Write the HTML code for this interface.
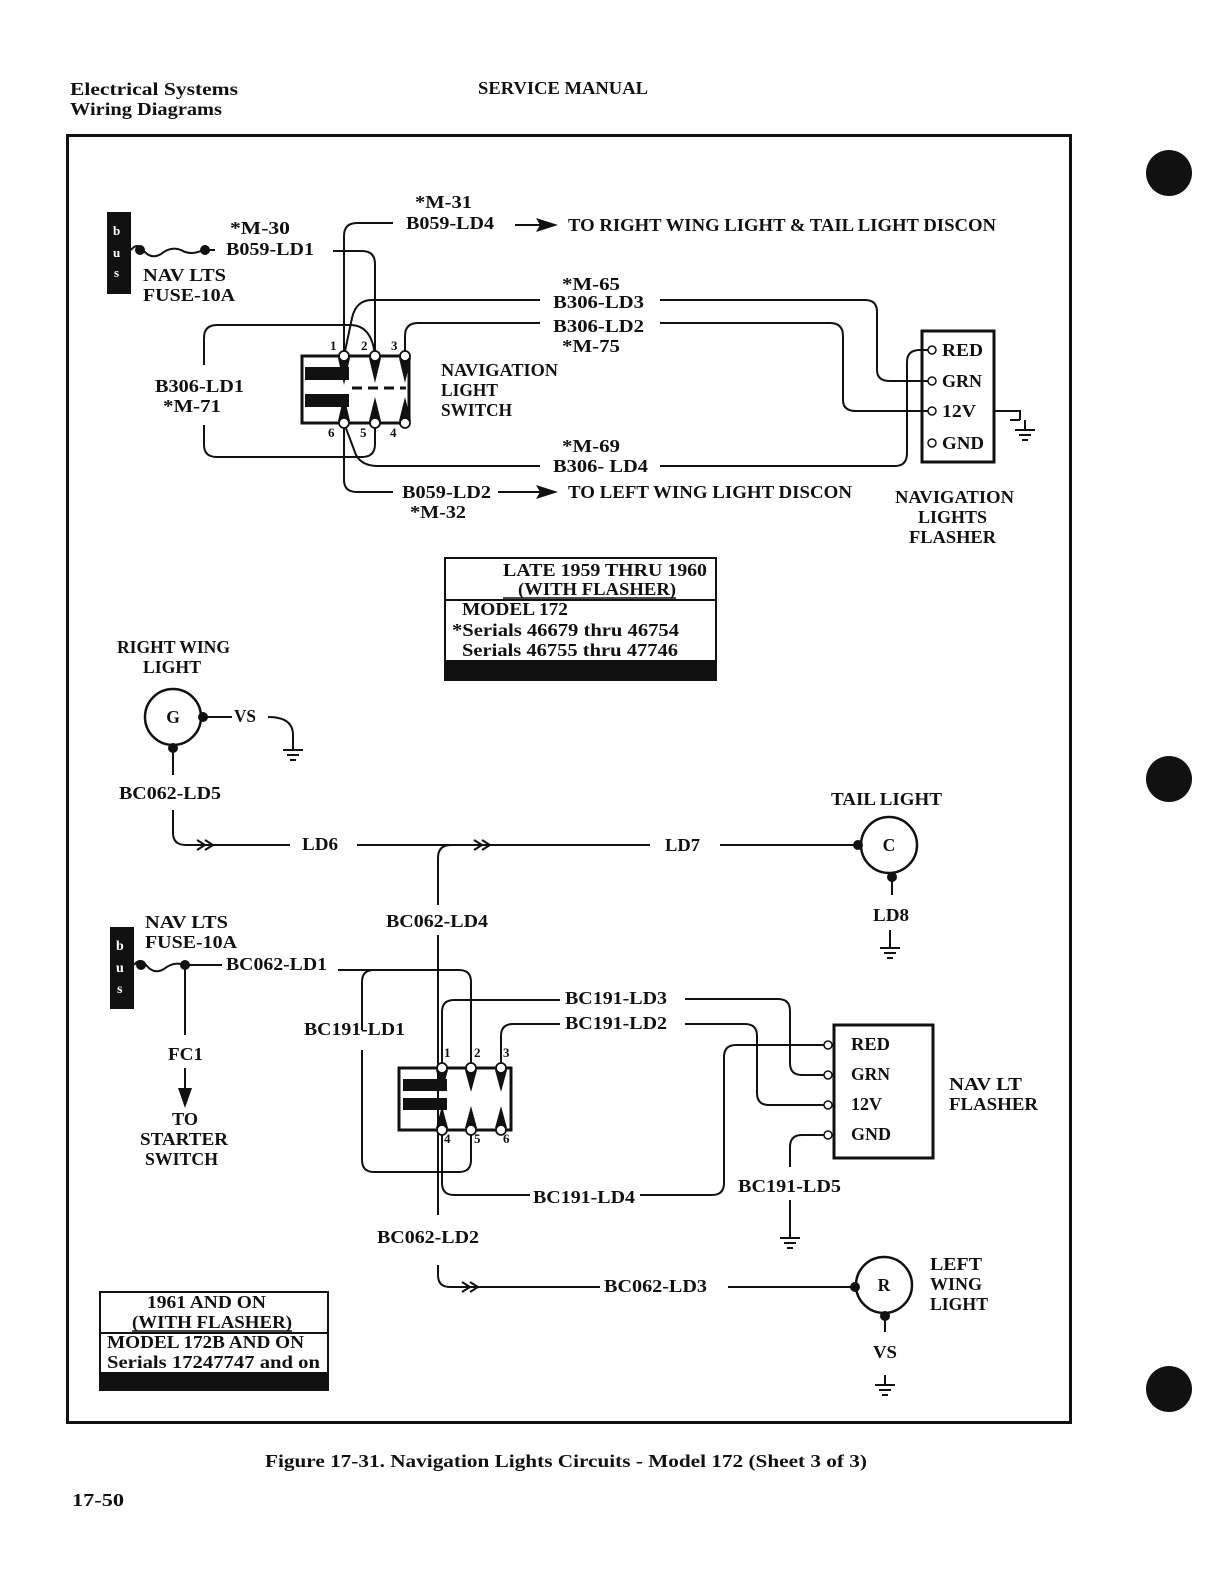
<!DOCTYPE html>
<html><head><meta charset="utf-8"><style>
html,body{margin:0;padding:0;background:#fff;overflow:hidden;width:1222px;height:1578px;}
svg{display:block;position:absolute;left:0;top:0;}
text{font-family:"Liberation Serif",serif;font-weight:bold;font-size:17.5px;fill:#111;}
</style></head><body>
<svg width="1222" height="1578" viewBox="0 0 1222 1578" xmlns="http://www.w3.org/2000/svg">
<defs>
<g id="gnd"><line x1="0" y1="0" x2="0" y2="10" stroke="#111" stroke-width="2"/><line x1="-10" y1="10" x2="10" y2="10" stroke="#111" stroke-width="2"/><line x1="-6" y1="15" x2="6" y2="15" stroke="#111" stroke-width="2"/><line x1="-3" y1="20" x2="3" y2="20" stroke="#111" stroke-width="2"/></g>
<g id="chev"><polyline points="-8,-5 0,0 -8,5" fill="none" stroke="#111" stroke-width="2"/><polyline points="0,-5 8,0 0,5" fill="none" stroke="#111" stroke-width="2"/></g>
</defs>
<rect width="1222" height="1578" fill="#fff"/>
<text x="70" y="95" textLength="168" lengthAdjust="spacingAndGlyphs">Electrical Systems</text>
<text x="70" y="115" textLength="152" lengthAdjust="spacingAndGlyphs">Wiring Diagrams</text>
<text x="478" y="94" textLength="170" lengthAdjust="spacingAndGlyphs">SERVICE MANUAL</text>
<circle cx="1169" cy="173" r="23" fill="#111"/>
<circle cx="1169" cy="779" r="23" fill="#111"/>
<circle cx="1169" cy="1389" r="23" fill="#111"/>
<rect x="67.5" y="135.5" width="1003" height="1287" fill="none" stroke="#111" stroke-width="3"/>

<g fill="none" stroke="#111" stroke-width="2">
<path d="M131,250 q6,-8 12,0 q8,10 18,4 q10,-8 20,-4 q10,6 22,0 H215"/>
<path d="M333,251 H362 Q375,251 375,264 V356"/>
<path d="M344,356 V236 Q344,223 357,223 H393"/>
<path d="M344,356 L352,318 Q356,300 372,300 H540"/>
<path d="M660,300 H865 Q877,300 877,312 V370 Q877,381 890,381 H930"/>
<path d="M405,356 V336 Q405,323 418,323 H540"/>
<path d="M660,323 H830 Q843,323 843,336 V400 Q843,411 856,411 H930"/>
<path d="M375,356 Q372,325 350,325 H217 Q204,325 204,338 V365"/>
<path d="M204,425 V445 Q204,457 217,457 H362 Q375,457 375,444 V423"/>
<path d="M344,423 L356,455 Q362,466 378,466 H540"/>
<path d="M660,466 H895 Q907,466 907,453 V362 Q907,350 920,350 H930"/>
<path d="M344,423 V480 Q344,492 357,492 H393"/>
<path d="M515,225 H548"/><path d="M498,492 H548"/>
<path d="M994,411 H1020 V420"/>
<rect x="922" y="331" width="72" height="131" stroke-width="3"/>
<rect x="445" y="558" width="271" height="122" stroke-width="2"/>
<line x1="445" y1="600" x2="716" y2="600"/>
<line x1="503" y1="598" x2="676" y2="598" stroke-width="1.5"/>
<circle cx="173" cy="717" r="28" stroke-width="2.5"/>
<path d="M203,717 H232"/>
<path d="M268,717 Q293,717 293,735 V740"/>
<path d="M173,748 V775"/>
<path d="M173,810 V833 Q173,845 186,845 H290"/>
<path d="M357,845 H650"/>
<path d="M720,845 H858"/>
<path d="M438,905 V858 Q438,845 451,845"/>
<circle cx="889" cy="845" r="28" stroke-width="2.5"/>
<path d="M892,875 V895"/>
<path d="M134,965 q6,-8 12,0 q8,10 18,4 q10,-8 20,-4 H222"/>
<path d="M185,965 V1035"/>
<path d="M185,1068 V1090"/>
<path d="M338,970 H459 Q471,970 471,982 V1068"/>
<path d="M362,1030 V982 Q362,970 374,970"/>
<path d="M362,1050 V1160 Q362,1172 374,1172 H459 Q471,1172 471,1160 V1130"/>
<path d="M438,935 V1215"/>
<path d="M442,1068 V1012 Q442,1000 454,1000 H560"/>
<path d="M685,999 H778 Q790,999 790,1011 V1063 Q790,1075 802,1075 H828"/>
<path d="M501,1068 V1036 Q501,1024 513,1024 H560"/>
<path d="M685,1024 H745 Q757,1024 757,1036 V1093 Q757,1105 769,1105 H828"/>
<path d="M442,1130 V1183 Q442,1195 454,1195 H530"/>
<path d="M640,1195 H712 Q724,1195 724,1183 V1057 Q724,1045 736,1045 H828"/>
<path d="M828,1135 H802 Q790,1135 790,1147 V1167"/>
<path d="M790,1200 V1228"/>
<rect x="834" y="1025" width="99" height="133" stroke-width="3"/>
<path d="M438,1265 V1275 Q438,1287 450,1287 H600"/>
<path d="M728,1287 H855"/>
<circle cx="884" cy="1285" r="28" stroke-width="2.5"/>
<path d="M885,1315 V1332"/>
<rect x="100" y="1292" width="228" height="98" stroke-width="2"/>
<line x1="100" y1="1333" x2="328" y2="1333"/>
<line x1="132" y1="1331" x2="292" y2="1331" stroke-width="1.5"/>
<rect x="302" y="356" width="107" height="67" stroke-width="3"/>
<rect x="399" y="1068" width="112" height="62" stroke-width="3"/>
<line x1="352" y1="388" x2="406" y2="388" stroke-width="3" stroke-dasharray="10,6"/>
</g>

<g fill="#fff" stroke="#111" stroke-width="1.5">
<circle cx="932" cy="350" r="4"/><circle cx="932" cy="381" r="4"/><circle cx="932" cy="411" r="4"/><circle cx="932" cy="443" r="4"/>
<circle cx="828" cy="1045" r="4"/><circle cx="828" cy="1075" r="4"/><circle cx="828" cy="1105" r="4"/><circle cx="828" cy="1135" r="4"/>
</g>
<g fill="#111">
<polygon points="338,358 350,358 344,385"/><polygon points="369,358 381,358 375,383"/><polygon points="399,358 411,358 405,383"/>
<polygon points="338,421 350,421 344,395"/><polygon points="369,421 381,421 375,397"/><polygon points="399,421 411,421 405,397"/>
<rect x="305" y="367" width="44" height="13"/><rect x="305" y="394" width="44" height="13"/>
<polygon points="436,1070 448,1070 442,1092"/><polygon points="465,1070 477,1070 471,1092"/><polygon points="495,1070 507,1070 501,1092"/>
<polygon points="436,1128 448,1128 442,1106"/><polygon points="465,1128 477,1128 471,1106"/><polygon points="495,1128 507,1128 501,1106"/>
<rect x="403" y="1079" width="44" height="12"/><rect x="403" y="1098" width="44" height="12"/>
</g>
<g fill="#fff" stroke="#111" stroke-width="1.8">
<circle cx="344" cy="356" r="5"/><circle cx="375" cy="356" r="5"/><circle cx="405" cy="356" r="5"/>
<circle cx="344" cy="423" r="5"/><circle cx="375" cy="423" r="5"/><circle cx="405" cy="423" r="5"/>
<circle cx="442" cy="1068" r="5"/><circle cx="471" cy="1068" r="5"/><circle cx="501" cy="1068" r="5"/>
<circle cx="442" cy="1130" r="5"/><circle cx="471" cy="1130" r="5"/><circle cx="501" cy="1130" r="5"/>
</g>
<g fill="#111">
<circle cx="140" cy="250" r="5"/><circle cx="205" cy="250" r="5"/>
<circle cx="141" cy="965" r="5"/><circle cx="185" cy="965" r="5"/>
<circle cx="203" cy="717" r="5"/><circle cx="173" cy="748" r="5"/>
<circle cx="858" cy="845" r="5"/><circle cx="892" cy="877" r="5"/>
<circle cx="855" cy="1287" r="5"/><circle cx="885" cy="1316" r="5"/>
<polygon points="558,225 536,218 540,225 536,232"/><polygon points="558,492 536,485 540,492 536,499"/>
<polygon points="185,1108 178,1088 192,1088"/>
<rect x="445" y="660" width="271" height="20"/>
<rect x="100" y="1372" width="228" height="18"/>
<rect x="107" y="212" width="24" height="82"/><rect x="110" y="927" width="24" height="82"/>
</g>
<text x="113" y="235" style="fill:#fff;font-size:13px">b</text><text x="113" y="257" style="fill:#fff;font-size:13px">u</text><text x="114" y="277" style="fill:#fff;font-size:13px">s</text>
<text x="116" y="950" style="fill:#fff;font-size:14px">b</text><text x="116" y="972" style="fill:#fff;font-size:14px">u</text><text x="117" y="993" style="fill:#fff;font-size:14px">s</text>
<use href="#gnd" x="1025" y="420"/><use href="#gnd" x="293" y="740"/><use href="#gnd" x="890" y="938"/>
<use href="#gnd" x="790" y="1228"/><use href="#gnd" x="885" y="1375"/>
<line x1="1010" y1="420" x2="1020" y2="420" stroke="#111" stroke-width="2"/>
<use href="#chev" x="205" y="845"/><use href="#chev" x="482" y="845"/><use href="#chev" x="470" y="1287"/>
<line x1="890" y1="930" x2="890" y2="938" stroke="#111" stroke-width="2"/>

<g>
<text x="230" y="234" textLength="60" lengthAdjust="spacingAndGlyphs">*M-30</text><text x="226" y="255" textLength="88" lengthAdjust="spacingAndGlyphs">B059-LD1</text>
<text x="143" y="281" textLength="83" lengthAdjust="spacingAndGlyphs">NAV LTS</text><text x="143" y="301" textLength="92" lengthAdjust="spacingAndGlyphs">FUSE-10A</text>
<text x="415" y="208" textLength="57" lengthAdjust="spacingAndGlyphs">*M-31</text><text x="406" y="229" textLength="88" lengthAdjust="spacingAndGlyphs">B059-LD4</text>
<text x="568" y="231" textLength="428" lengthAdjust="spacingAndGlyphs">TO RIGHT WING LIGHT &amp; TAIL LIGHT DISCON</text>
<text x="562" y="290" textLength="58" lengthAdjust="spacingAndGlyphs">*M-65</text><text x="553" y="308" textLength="91" lengthAdjust="spacingAndGlyphs">B306-LD3</text>
<text x="553" y="332" textLength="91" lengthAdjust="spacingAndGlyphs">B306-LD2</text><text x="562" y="352" textLength="58" lengthAdjust="spacingAndGlyphs">*M-75</text>
<text x="155" y="392" textLength="89" lengthAdjust="spacingAndGlyphs">B306-LD1</text><text x="163" y="412" textLength="58" lengthAdjust="spacingAndGlyphs">*M-71</text>
<text x="441" y="376" textLength="117" lengthAdjust="spacingAndGlyphs">NAVIGATION</text><text x="441" y="396" textLength="57" lengthAdjust="spacingAndGlyphs">LIGHT</text><text x="441" y="416" textLength="71" lengthAdjust="spacingAndGlyphs">SWITCH</text>
<text x="562" y="452" textLength="58" lengthAdjust="spacingAndGlyphs">*M-69</text><text x="553" y="472" textLength="95" lengthAdjust="spacingAndGlyphs">B306- LD4</text>
<text x="402" y="498" textLength="89" lengthAdjust="spacingAndGlyphs">B059-LD2</text><text x="410" y="518" textLength="56" lengthAdjust="spacingAndGlyphs">*M-32</text>
<text x="568" y="498" textLength="284" lengthAdjust="spacingAndGlyphs">TO LEFT WING LIGHT DISCON</text>
<text x="330" y="350" style="font-size:13px">1</text><text x="361" y="350" style="font-size:13px">2</text><text x="391" y="350" style="font-size:13px">3</text>
<text x="328" y="437" style="font-size:13px">6</text><text x="360" y="437" style="font-size:13px">5</text><text x="390" y="437" style="font-size:13px">4</text>
<text x="444" y="1057" style="font-size:13px">1</text><text x="474" y="1057" style="font-size:13px">2</text><text x="503" y="1057" style="font-size:13px">3</text>
<text x="444" y="1143" style="font-size:13px">4</text><text x="474" y="1143" style="font-size:13px">5</text><text x="503" y="1143" style="font-size:13px">6</text>
<text x="942" y="356" textLength="41" lengthAdjust="spacingAndGlyphs">RED</text><text x="942" y="387" textLength="40" lengthAdjust="spacingAndGlyphs">GRN</text><text x="942" y="417" textLength="34" lengthAdjust="spacingAndGlyphs">12V</text><text x="942" y="449" textLength="42" lengthAdjust="spacingAndGlyphs">GND</text>
<text x="895" y="503" textLength="119" lengthAdjust="spacingAndGlyphs">NAVIGATION</text><text x="918" y="523" textLength="69" lengthAdjust="spacingAndGlyphs">LIGHTS</text><text x="909" y="543" textLength="87" lengthAdjust="spacingAndGlyphs">FLASHER</text>
<text x="503" y="576" textLength="204" lengthAdjust="spacingAndGlyphs">LATE 1959 THRU 1960</text><text x="518" y="595" textLength="158" lengthAdjust="spacingAndGlyphs">(WITH FLASHER)</text>
<text x="462" y="615" textLength="106" lengthAdjust="spacingAndGlyphs">MODEL 172</text><text x="452" y="636" textLength="227" lengthAdjust="spacingAndGlyphs">*Serials 46679 thru 46754</text><text x="462" y="656" textLength="216" lengthAdjust="spacingAndGlyphs">Serials 46755 thru 47746</text>
<text x="117" y="653" textLength="113" lengthAdjust="spacingAndGlyphs">RIGHT WING</text><text x="143" y="673" textLength="58" lengthAdjust="spacingAndGlyphs">LIGHT</text>
<text x="173" y="723" text-anchor="middle">G</text><text x="234" y="722" textLength="22" lengthAdjust="spacingAndGlyphs">VS</text>
<text x="119" y="799" textLength="102" lengthAdjust="spacingAndGlyphs">BC062-LD5</text>
<text x="302" y="850" textLength="36" lengthAdjust="spacingAndGlyphs">LD6</text><text x="665" y="851" textLength="35" lengthAdjust="spacingAndGlyphs">LD7</text>
<text x="831" y="805" textLength="111" lengthAdjust="spacingAndGlyphs">TAIL LIGHT</text><text x="889" y="851" text-anchor="middle">C</text>
<text x="873" y="921" textLength="36" lengthAdjust="spacingAndGlyphs">LD8</text>
<text x="145" y="928" textLength="83" lengthAdjust="spacingAndGlyphs">NAV LTS</text><text x="145" y="948" textLength="92" lengthAdjust="spacingAndGlyphs">FUSE-10A</text>
<text x="226" y="970" textLength="101" lengthAdjust="spacingAndGlyphs">BC062-LD1</text>
<text x="386" y="927" textLength="102" lengthAdjust="spacingAndGlyphs">BC062-LD4</text>
<text x="304" y="1035" textLength="101" lengthAdjust="spacingAndGlyphs">BC191-LD1</text>
<text x="168" y="1060" textLength="35" lengthAdjust="spacingAndGlyphs">FC1</text><text x="172" y="1125" textLength="26" lengthAdjust="spacingAndGlyphs">TO</text><text x="140" y="1145" textLength="88" lengthAdjust="spacingAndGlyphs">STARTER</text><text x="145" y="1165" textLength="73" lengthAdjust="spacingAndGlyphs">SWITCH</text>
<text x="565" y="1004" textLength="102" lengthAdjust="spacingAndGlyphs">BC191-LD3</text><text x="565" y="1029" textLength="102" lengthAdjust="spacingAndGlyphs">BC191-LD2</text>
<text x="851" y="1050" textLength="39" lengthAdjust="spacingAndGlyphs">RED</text><text x="851" y="1080" textLength="39" lengthAdjust="spacingAndGlyphs">GRN</text><text x="851" y="1110" textLength="31" lengthAdjust="spacingAndGlyphs">12V</text><text x="851" y="1140" textLength="40" lengthAdjust="spacingAndGlyphs">GND</text>
<text x="949" y="1090" textLength="73" lengthAdjust="spacingAndGlyphs">NAV LT</text><text x="949" y="1110" textLength="89" lengthAdjust="spacingAndGlyphs">FLASHER</text>
<text x="533" y="1203" textLength="102" lengthAdjust="spacingAndGlyphs">BC191-LD4</text><text x="738" y="1192" textLength="103" lengthAdjust="spacingAndGlyphs">BC191-LD5</text>
<text x="377" y="1243" textLength="102" lengthAdjust="spacingAndGlyphs">BC062-LD2</text>
<text x="604" y="1292" textLength="103" lengthAdjust="spacingAndGlyphs">BC062-LD3</text>
<text x="884" y="1291" text-anchor="middle">R</text>
<text x="930" y="1270" textLength="52" lengthAdjust="spacingAndGlyphs">LEFT</text><text x="930" y="1290" textLength="52" lengthAdjust="spacingAndGlyphs">WING</text><text x="930" y="1310" textLength="58" lengthAdjust="spacingAndGlyphs">LIGHT</text>
<text x="873" y="1358" textLength="24" lengthAdjust="spacingAndGlyphs">VS</text>
<text x="147" y="1308" textLength="119" lengthAdjust="spacingAndGlyphs">1961 AND ON</text><text x="132" y="1328" textLength="160" lengthAdjust="spacingAndGlyphs">(WITH FLASHER)</text>
<text x="107" y="1348" textLength="197" lengthAdjust="spacingAndGlyphs">MODEL 172B AND ON</text><text x="107" y="1368" textLength="213" lengthAdjust="spacingAndGlyphs">Serials 17247747 and on</text>
<text x="265" y="1467" textLength="602" lengthAdjust="spacingAndGlyphs">Figure 17-31.  Navigation Lights Circuits - Model 172 (Sheet 3 of 3)</text>
<text x="72" y="1506" textLength="52" lengthAdjust="spacingAndGlyphs">17-50</text>
</g>
</svg>
</body></html>
